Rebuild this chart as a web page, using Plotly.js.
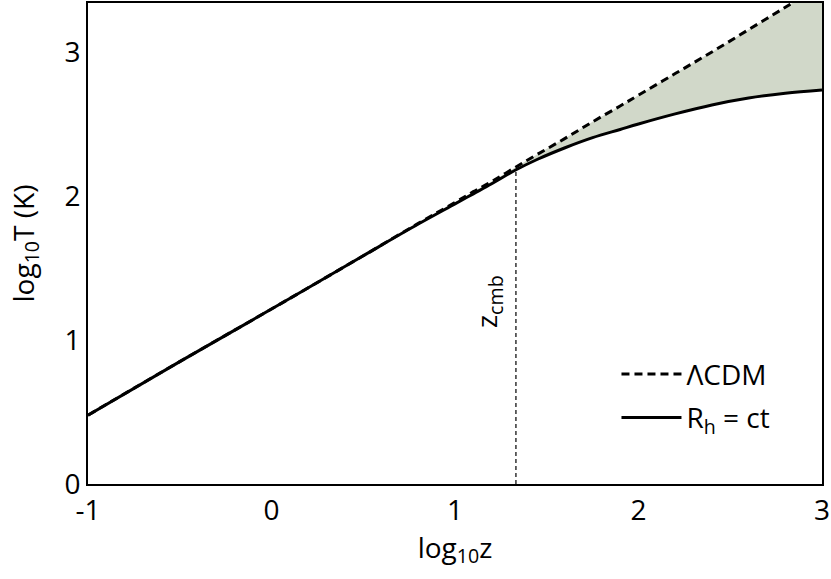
<!DOCTYPE html>
<html>
<head>
<meta charset="utf-8">
<script src="https://cdn.plot.ly/plotly-3.0.1.min.js"></script>
<style>html,body{margin:0;padding:0;background:#fff;}#chart{width:831px;height:579px;}</style>
</head>
<body>
<div id="chart"></div>
<script>
// log10 z grid
const logZ = [-1, -0.5, 0, 0.5, 0.8, 1.0, 1.1, 1.2, 1.33, 1.45, 1.6, 1.75, 1.9, 2.0, 2.2, 2.4, 2.6, 2.8, 3.0];
// LambdaCDM log10 T
const lcdmT = [0.478, 0.85, 1.215, 1.585, 1.81, 1.955, 2.03, 2.10, 2.20, 2.29, 2.40, 2.515, 2.625, 2.70, 2.85, 3.00, 3.155, 3.31, 3.465];
// R_h = ct log10 T
const rhctT = [0.478, 0.85, 1.215, 1.585, 1.805, 1.945, 2.015, 2.085, 2.18, 2.255, 2.335, 2.405, 2.462, 2.50, 2.57, 2.632, 2.68, 2.713, 2.736];
// z_cmb marker
const zcmbX = [1.332, 1.332];
const zcmbY = [0, 2.18];
// tick labels
const xTickVals = [-1, 0, 1, 2, 3];
const xTickText = ["-1", "0", "1", "2", "3"];
const yTickVals = [0, 1, 2, 3];
const yTickText = ["0", "1", "2", "3"];

const font = "Open Sans, Noto Sans, sans-serif";
const fs = 28;

const traces = [
  {x: logZ, y: rhctT, mode: 'lines', line: {width: 0, shape: 'spline'}, showlegend: false, hoverinfo: 'skip'},
  {x: logZ, y: lcdmT, mode: 'lines', line: {width: 0, shape: 'spline'}, fill: 'tonexty', fillcolor: '#d1d8c9', showlegend: false, hoverinfo: 'skip'},
  {x: zcmbX, y: zcmbY, mode: 'lines', line: {color: '#333', width: 1.5, dash: '4px,3px'}, showlegend: false},
  {x: logZ, y: lcdmT, mode: 'lines', name: 'ΛCDM', legendgroup: 'a', line: {color: '#000', width: 3, dash: '8px,5px', shape: 'spline'}},
  {x: logZ, y: rhctT, mode: 'lines', name: 'R<sub>h</sub> = ct', legendgroup: 'b', line: {color: '#000', width: 3, shape: 'spline'}}
];

const layout = {
  width: 831, height: 579,
  margin: {l: 88, r: 9, t: 3, b: 95},
  paper_bgcolor: '#fff', plot_bgcolor: '#fff',
  font: {family: font, size: fs, color: '#000'},
  showlegend: true,
  legend: {x: 0.72, y: 0.28, xanchor: 'left', yanchor: 'top', bgcolor: 'rgba(0,0,0,0)',
           font: {family: font, size: fs, color: '#000'}, traceorder: 'grouped', tracegroupgap: 4, itemwidth: 60},
  xaxis: {range: [-1, 3], tickvals: xTickVals, ticktext: xTickText, showgrid: false, zeroline: false,
          showline: true, linecolor: '#000', linewidth: 2, mirror: true, ticks: '',
          tickfont: {family: font, size: fs}, title: {text: 'log<sub>10</sub>z', font: {family: font, size: fs}, standoff: 10}},
  yaxis: {range: [0, 3.34], tickvals: yTickVals, ticktext: yTickText, showgrid: false, zeroline: false,
          showline: true, linecolor: '#000', linewidth: 2, mirror: true, ticks: '',
          tickfont: {family: font, size: fs}, title: {text: 'log<sub>10</sub>T (K)', font: {family: font, size: fs}, standoff: 22}},
  annotations: [
    {x: zcmbX[0], y: 1.27, xref: 'x', yref: 'y', text: 'z<sub>cmb</sub>', showarrow: false, textangle: -90,
     xshift: -28, font: {family: font, size: fs, color: '#000'}}
  ]
};

Plotly.newPlot('chart', traces, layout, {displayModeBar: false, staticPlot: true});
</script>
</body>
</html>
